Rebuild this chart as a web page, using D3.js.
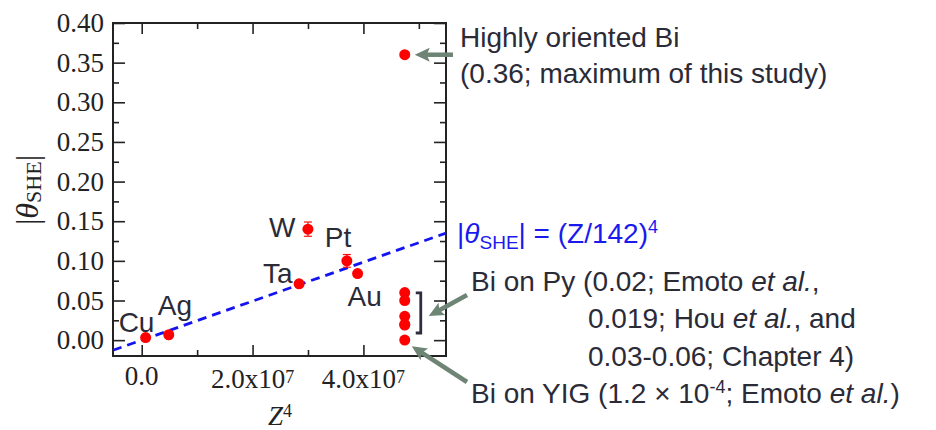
<!DOCTYPE html>
<html>
<head>
<meta charset="utf-8">
<script src="https://cdn.jsdelivr.net/npm/d3@7"></script>
<style>
  body { margin: 0; background: #fff; }
  svg { display: block; }
  .tick text { font-family: "Liberation Serif", "Times New Roman", serif; font-size: 27px; fill: #222; }
</style>
</head>
<body>
<div id="chart"></div>
<script>
// element data
const elements = ["Cu", "Ag", "Ta", "W", "Pt", "Au"];
const atomicNumber = [29, 47, 73, 74, 78, 79];
const thetaSHE = [0.0032, 0.0068, 0.071, 0.14, 0.10, 0.084];
const thetaErr = [0, 0, 0, 0.009, 0.008, 0];

// Bi data (Z = 83)
const biNumber = 83;
const biTheta = [0.36, 0.06, 0.05, 0.03, 0.02, 0.019, 0.00012];

// ticks
const xMajorTicks = [0, 2e7, 4e7];
const xMinorTicks = [1e7, 3e7, 5e7];
const xTickLabels = ["0.0", "2.0x10", "4.0x10"];
const yMajorTicks = [0, 0.05, 0.10, 0.15, 0.20, 0.25, 0.30, 0.35, 0.40];
const yMinorTicks = [0.025, 0.075, 0.125, 0.175, 0.225, 0.275, 0.325, 0.375];

const fitDenominator = 142; // |theta| = (Z/142)^4

const W = 936, H = 430;
const plot = { left: 113, right: 446, top: 23, bottom: 356 };
const sans = "'Liberation Sans', Arial, sans-serif";
const serif = "'Liberation Serif', 'Times New Roman', serif";
const textColor = "#2b2b38";
const arrowColor = "#6e8474";
const fs = 28;

const svg = d3.select("#chart").append("svg")
  .attr("width", W).attr("height", H);

const x = d3.scaleLinear().domain([-5.18e6, 5.49e7]).range([plot.left, plot.right]);
const y = d3.scaleLinear().domain([-0.02, 0.40]).range([plot.bottom, plot.top]);

// axes (inward ticks)
function addAxis(axis, tx, ty, values, size, fmt) {
  const g = svg.append("g")
    .attr("transform", `translate(${tx},${ty})`)
    .call(axis.tickValues(values).tickSize(-size).tickSizeOuter(0).tickFormat(fmt || ""));
  g.select(".domain").remove();
  g.selectAll("line").attr("stroke", "#222").attr("stroke-width", 1.6);
  return g;
}
addAxis(d3.axisLeft(y).tickPadding(9), plot.left, 0, yMajorTicks, 12, d3.format(".2f"));
addAxis(d3.axisLeft(y), plot.left, 0, yMinorTicks, 6);
addAxis(d3.axisRight(y), plot.right, 0, yMajorTicks, 12);
addAxis(d3.axisRight(y), plot.right, 0, yMinorTicks, 6);
addAxis(d3.axisBottom(x), 0, plot.bottom, xMajorTicks, 11);
addAxis(d3.axisBottom(x), 0, plot.bottom, xMinorTicks, 6);
addAxis(d3.axisTop(x), 0, plot.top, xMajorTicks, 11);
addAxis(d3.axisTop(x), 0, plot.top, xMinorTicks, 6);

svg.append("rect")
  .attr("x", plot.left).attr("y", plot.top)
  .attr("width", plot.right - plot.left).attr("height", plot.bottom - plot.top)
  .attr("fill", "none").attr("stroke", "#222").attr("stroke-width", 2);

// x tick labels
xMajorTicks.forEach((v, i) => {
  const t = svg.append("text")
    .attr("x", x(v))
    .attr("y", i === 0 ? 385 : 388)
    .attr("text-anchor", "middle")
    .attr("font-family", serif).attr("font-size", 27).attr("fill", "#222")
    .text(xTickLabels[i]);
  if (i > 0) t.append("tspan").attr("font-size", 18).attr("dy", -5).text("7");
});

// x label
const xl = svg.append("text")
  .attr("x", 280).attr("y", 425).attr("text-anchor", "middle")
  .attr("font-family", serif).attr("font-size", 27).attr("fill", "#222");
xl.append("tspan").attr("font-style", "italic").text("Z");
xl.append("tspan").attr("font-size", 18).attr("dy", -8).text("4");

// y label
const ylab = svg.append("text")
  .attr("transform", "translate(38,190) rotate(-90)")
  .attr("text-anchor", "middle")
  .attr("font-family", serif).attr("font-size", 32).attr("fill", "#222");
ylab.append("tspan").text("|");
ylab.append("tspan").attr("font-style", "italic").text("θ");
ylab.append("tspan").attr("font-size", 22).attr("dy", 3).text("SHE");
ylab.append("tspan").attr("dy", -3).text("|");

// fit line
const fit = v => v / Math.pow(fitDenominator, 4);
svg.append("path")
  .datum(x.domain())
  .attr("d", d3.line().x(d => x(d)).y(d => y(fit(d))))
  .attr("fill", "none")
  .attr("stroke", "#1414f0")
  .attr("stroke-width", 2.8)
  .attr("stroke-dasharray", "9,6");

// element points
const pts = elements.map((e, i) => ({
  name: e, z4: Math.pow(atomicNumber[i], 4), t: thetaSHE[i], err: thetaErr[i]
}));
const bi = biTheta.map(t => ({ z4: Math.pow(biNumber, 4), t: t, err: 0 }));
const all = pts.concat(bi);

const eb = svg.append("g").attr("stroke", "#ff1010").attr("stroke-width", 1.2);
all.filter(d => d.err > 0).forEach(d => {
  const cx = x(d.z4);
  eb.append("line").attr("x1", cx).attr("x2", cx).attr("y1", y(d.t - d.err)).attr("y2", y(d.t + d.err));
  [d.t - d.err, d.t + d.err].forEach(v =>
    eb.append("line").attr("x1", cx - 4).attr("x2", cx + 4).attr("y1", y(v)).attr("y2", y(v)));
});

svg.append("g").selectAll("circle")
  .data(all).join("circle")
  .attr("cx", d => x(d.z4))
  .attr("cy", d => y(d.t))
  .attr("r", 5.5)
  .attr("fill", "#ff0000");

// element labels
const labelOffset = {
  Cu: [-27, -6], Ag: [-11, -20], Ta: [-36, -1],
  W: [-39, 8], Pt: [-22, -14], Au: [-10, 32]
};
svg.append("g").selectAll("text")
  .data(pts).join("text")
  .attr("x", d => x(d.z4) + labelOffset[d.name][0])
  .attr("y", d => y(d.t) + labelOffset[d.name][1])
  .attr("font-family", sans).attr("font-size", fs).attr("fill", textColor)
  .text(d => d.name);

// bracket around Bi on Py values
const biX = x(Math.pow(biNumber, 4));
const bx = biX + 16;
svg.append("path")
  .attr("d", `M${bx - 5},${y(0.0595)}H${bx}V${y(0.009)}H${bx - 5}`)
  .attr("fill", "none").attr("stroke", "#2e2e40").attr("stroke-width", 2.8);

// arrows
function arrow(x1, y1, x2, y2) {
  const a = Math.atan2(y2 - y1, x2 - x1);
  const len = Math.hypot(x2 - x1, y2 - y1);
  const g = svg.append("g")
    .attr("transform", `translate(${x2},${y2}) rotate(${a * 180 / Math.PI})`);
  g.append("line").attr("x1", -len).attr("x2", -10).attr("y1", 0).attr("y2", 0)
    .attr("stroke", arrowColor).attr("stroke-width", 4.5);
  g.append("path").attr("d", "M0,0L-15,-7L-12,0L-15,7Z").attr("fill", arrowColor);
}
arrow(453, y(0.36), biX + 10, y(0.36));
arrow(467, 295, bx + 8, 316);
arrow(467, 382, biX + 7, y(0) + 6);

// annotations
function note(tx, ty, parts, color) {
  const t = svg.append("text").attr("x", tx).attr("y", ty)
    .attr("font-family", sans).attr("font-size", fs).attr("fill", color || textColor);
  parts.forEach(p => {
    const s = t.append("tspan").text(p.text);
    if (p.italic) s.attr("font-style", "italic");
    if (p.size) s.attr("font-size", p.size);
    if (p.dy) s.attr("dy", p.dy);
  });
}
note(460, 47, [{ text: "Highly oriented Bi" }]);
note(460, 83, [{ text: "(0.36; maximum of this study)" }]);
note(457, 243, [
  { text: "|" }, { text: "θ", italic: true },
  { text: "SHE", size: 19, dy: 6 }, { text: "| = (Z/142)", dy: -6 },
  { text: "4", size: 18, dy: -10 }
], "#1a1aee");
note(471, 291, [{ text: "Bi on Py (0.02; Emoto " }, { text: "et al.", italic: true }, { text: "," }]);
note(588, 328, [{ text: "0.019; Hou " }, { text: "et al.", italic: true }, { text: ", and" }]);
note(588, 366, [{ text: "0.03-0.06; Chapter 4)" }]);
note(471, 403, [
  { text: "Bi on YIG (1.2 × 10" }, { text: "-4", size: 18, dy: -10 },
  { text: "; Emoto ", dy: 10 }, { text: "et al.", italic: true }, { text: ")" }
]);
</script>
</body>
</html>
